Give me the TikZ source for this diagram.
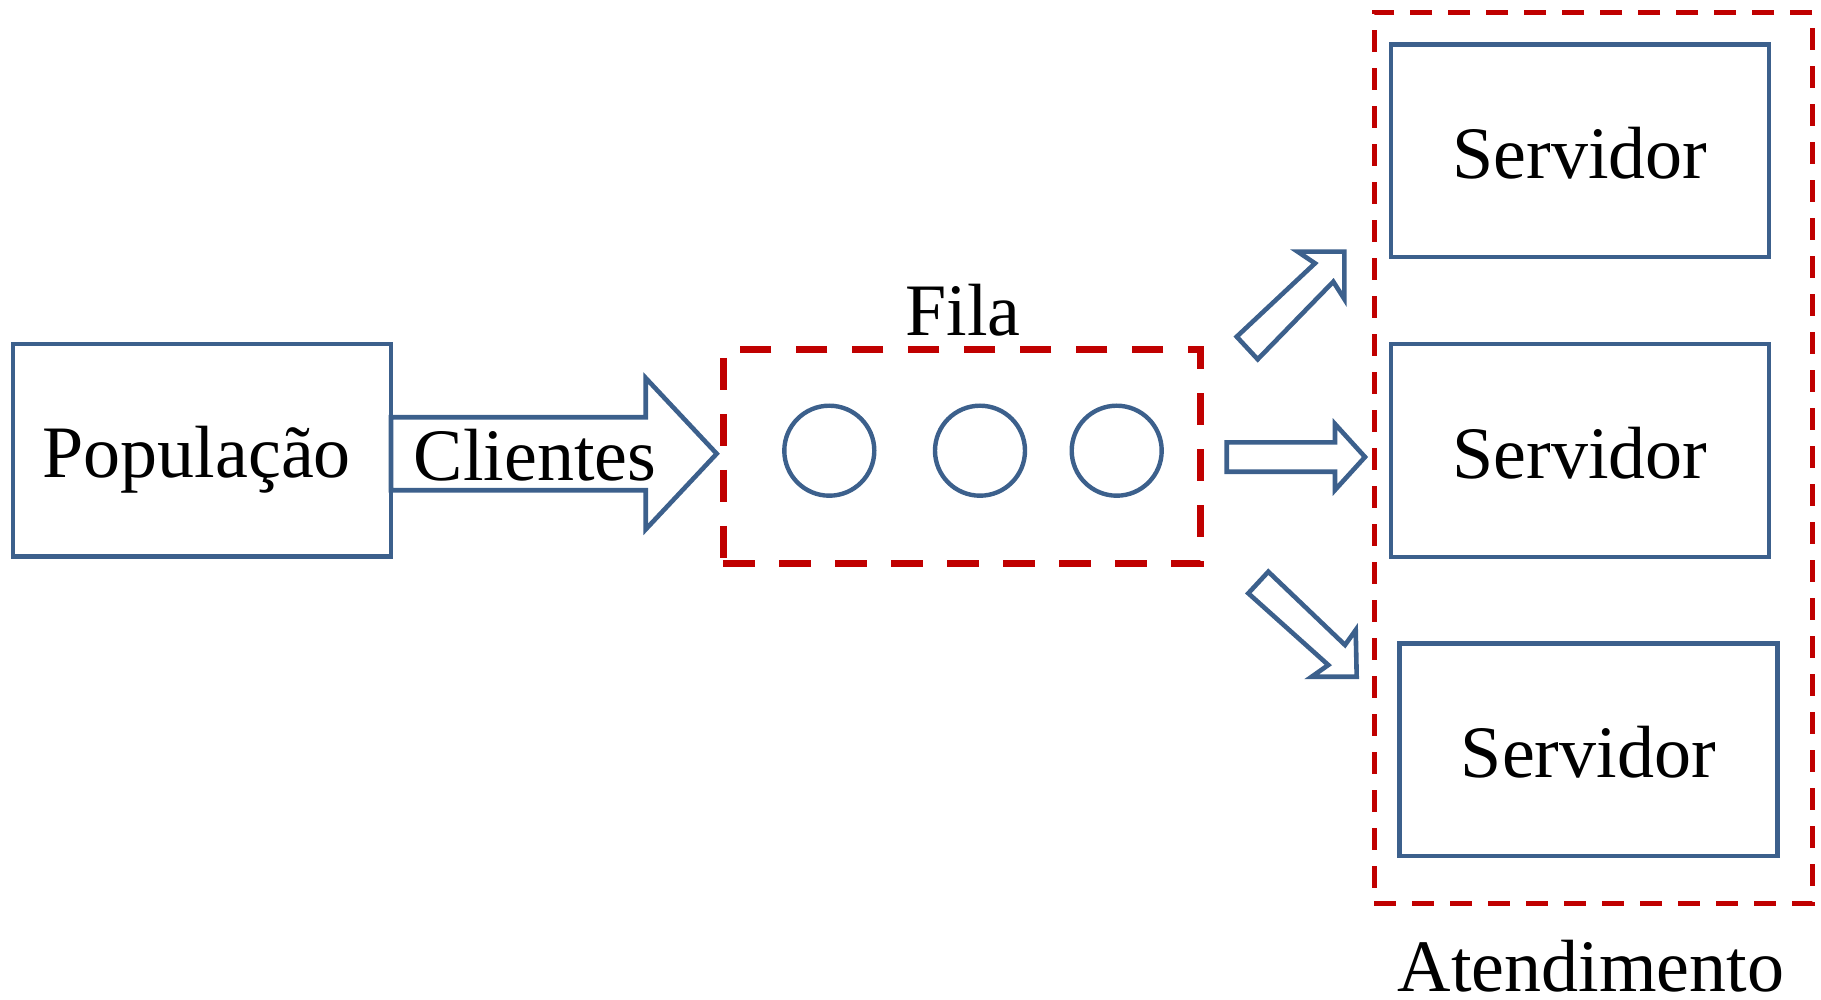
\documentclass[tikz,border=0pt]{standalone}
\usepackage{fontspec}
\setmainfont{Liberation Serif}
\definecolor{sblue}{RGB}{60,96,140}
\definecolor{sred}{RGB}{192,0,0}
\begin{document}
\begin{tikzpicture}[x=0.5pt,y=-0.5pt,
  every node/.style={font=\fontsize{37}{44}\selectfont, inner sep=0pt, outer sep=0pt},
  bluebox/.style={rectangle, draw=sblue, line width=2.2pt, minimum width=189pt, minimum height=106.2pt, text height=27.5pt, text depth=0pt},
  qcirc/.style={circle, draw=sblue, line width=2.2pt, minimum size=45pt},
  filabox/.style={rectangle, draw=sred, line width=3.5pt, dash pattern=on 15.85pt off 12.15pt},
  atbox/.style={rectangle, draw=sred, line width=2.5pt, dash pattern=on 11pt off 8pt},
  blockarrow/.style={draw=sblue, line width=2.3pt, fill=white, line join=miter},
  lbl/.style={anchor=base}
]
\useasboundingbox (0,0) rectangle (1821,1000);

% Population box
\node[bluebox] (pop) at (201.7,450.3) {População\kern5pt};

% Clientes block arrow
\draw[blockarrow] (391,417.2) -- (645.7,417.2) -- (645.7,378) -- (716.7,453.7)
  -- (645.7,529.4) -- (645.7,490.2) -- (391,490.2) -- cycle;
\node[lbl] (clientes) at (535,480) {Clientes};

% Fila
\node[filabox, minimum width=238.7pt, minimum height=106.65pt] (fila) at (962,456.65) {};
\node[lbl] (filalabel) at (963,335.7) {Fila};
\node[qcirc] (c1) at (829.3,450.7) {};
\node[qcirc] (c2) at (980,450.7) {};
\node[qcirc] (c3) at (1116.7,450.7) {};

% Atendimento
\node[atbox, minimum width=219.25pt, minimum height=445.5pt] (atend) at (1593.25,457.8) {};
\node[lbl, text depth=0pt] (atlabel) at (1591,991.7) {Atendimento};

% Servers
\node[bluebox] (s1) at (1580,150.8) {Servidor};
\node[bluebox] (s2) at (1580,450.5) {Servidor};
\node[bluebox] (s3) at (1588.3,749.7) {Servidor};

% Upper diagonal arrow
\draw[blockarrow] (1236.7,336.7) -- (1315,263.3) -- (1297.7,251.7) -- (1344.3,251.7)
  -- (1344.3,299) -- (1333.3,281.7) -- (1257.7,359.3) -- cycle;

% Middle arrow
\draw[blockarrow] (1226.7,442.3) -- (1335,442.3) -- (1335,424) -- (1365,457)
  -- (1335,490) -- (1335,471.7) -- (1226.7,471.7) -- cycle;

% Lower diagonal arrow
\draw[blockarrow] (1268.3,571.7) -- (1345,645) -- (1355.7,630) -- (1356.7,676.7)
  -- (1311.7,676.7) -- (1328.3,665) -- (1248.3,593.3) -- cycle;
\end{tikzpicture}
\end{document}
